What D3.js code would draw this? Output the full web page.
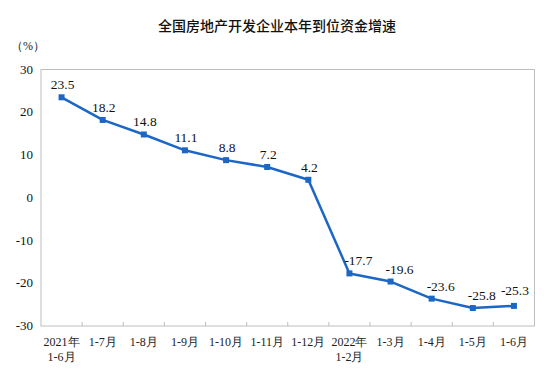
<!DOCTYPE html>
<html>
<head>
<meta charset="utf-8">
<script src="https://cdn.jsdelivr.net/npm/d3@7"></script>
<style>
  body { margin: 0; background: #fff; }
  text { font-family: "Liberation Serif", "Times New Roman", serif; }
</style>
</head>
<body>
<div id="chart"></div>
<script>
const categories = ["2021年\n1-6月", "1-7月", "1-8月", "1-9月", "1-10月", "1-11月", "1-12月",
    "2022年\n1-2月", "1-3月", "1-4月", "1-5月", "1-6月"];
const values = [23.5, 18.2, 14.8, 11.1, 8.8, 7.2, 4.2, -17.7, -19.6, -23.6, -25.8, -25.3];
const yTicks = [30, 20, 10, 0, -10, -20, -30];

const width = 554, height = 388;
const plotLeft = 41, plotRight = 534.5, plotTop = 69.5, plotBottom = 326;
const lineColor = "#1c67c6";

const svg = d3.select("#chart").append("svg")
    .attr("width", width)
    .attr("height", height);

svg.append("text")
    .attr("x", 277)
    .attr("y", 31)
    .attr("text-anchor", "middle")
    .style("font-family", "'Noto Sans CJK SC', sans-serif")
    .style("font-size", "14px")
    .style("font-weight", "500")
    .style("fill", "#111")
    .text("全国房地产开发企业本年到位资金增速");

svg.append("text")
    .attr("x", 11)
    .attr("y", 50)
    .style("font-size", "12px")
    .style("fill", "#222")
    .text("（%）");

const x = d3.scaleBand().domain(d3.range(categories.length)).range([plotLeft, plotRight]);
const y = d3.scaleLinear().domain([-30, 30]).range([plotBottom, plotTop]);

// frame
svg.append("rect")
    .attr("x", plotLeft)
    .attr("y", plotTop)
    .attr("width", plotRight - plotLeft)
    .attr("height", plotBottom - plotTop)
    .attr("fill", "none")
    .attr("stroke", "#bdbdbd")
    .attr("stroke-width", 1);

// y tick labels
svg.selectAll(".ylab")
    .data(yTicks)
    .join("text")
    .attr("class", "ylab")
    .attr("x", 33)
    .attr("y", d => y(d) + 4)
    .attr("text-anchor", "end")
    .style("font-size", "13px")
    .style("fill", "#111")
    .text(d => d);

// x tick marks (inside, pointing up)
svg.selectAll(".xtick")
    .data(d3.range(1, categories.length))
    .join("line")
    .attr("class", "xtick")
    .attr("x1", i => x(i))
    .attr("x2", i => x(i))
    .attr("y1", plotBottom)
    .attr("y2", plotBottom - 4)
    .attr("stroke", "#bdbdbd");

// x labels
categories.forEach((c, i) => {
    const t = svg.append("text")
        .attr("x", x(i) + x.bandwidth() / 2)
        .attr("y", 346)
        .attr("text-anchor", "middle")
        .style("font-size", "12px")
        .style("fill", "#222");
    c.split("\n").forEach((s, k) => {
        t.append("tspan")
            .attr("x", x(i) + x.bandwidth() / 2)
            .attr("dy", k === 0 ? 0 : 15)
            .text(s);
    });
});

const cx = i => x(i) + x.bandwidth() / 2;

svg.append("path")
    .datum(values)
    .attr("fill", "none")
    .attr("stroke", lineColor)
    .attr("stroke-width", 2.5)
    .attr("stroke-linejoin", "round")
    .attr("d", d3.line().x((d, i) => cx(i)).y(d => y(d)));

svg.selectAll(".pt")
    .data(values)
    .join("rect")
    .attr("class", "pt")
    .attr("x", (d, i) => cx(i) - 3)
    .attr("y", d => y(d) - 3)
    .attr("width", 6)
    .attr("height", 6)
    .attr("fill", lineColor);

// labels sit above the point; negative ones are nudged right, clear of the line
const last = values.length - 1;
svg.selectAll(".lab")
    .data(values)
    .join("text")
    .attr("class", "lab")
    .attr("x", (d, i) => cx(i) + (d < 0 && i < last ? 9 : 1))
    .attr("y", (d, i) => y(d) - (i === last ? 11 : 8))
    .attr("text-anchor", "middle")
    .style("font-size", "13.5px")
    .style("fill", "#111")
    .text(d => d.toFixed(1));
</script>
</body>
</html>
